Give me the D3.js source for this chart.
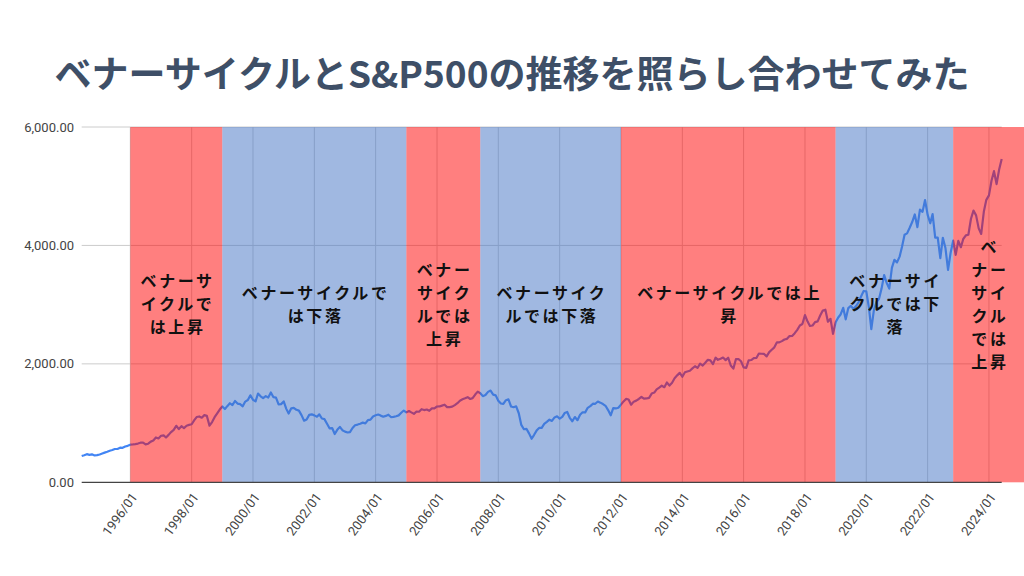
<!DOCTYPE html>
<html>
<head>
<meta charset="utf-8">
<script src="https://cdn.jsdelivr.net/npm/d3@7"></script>
<style>
  html, body { margin: 0; background: #fff; }
  svg { display: block; font-family: Roboto, Arial, sans-serif; }
  .title { font-family: "Noto Sans CJK JP"; font-weight: 700; fill: #3e4f67; }
  .band-label { font-family: "Noto Sans CJK JP"; font-weight: 700; font-size: 16px; letter-spacing: 2.6px; fill: #111; }
  .tick-y { font-size: 13px; fill: #444; }
  .tick-x { font-size: 13px; fill: #444; }
</style>
</head>
<body>
<div id="chart"></div>
<script>
(function () {
  const TITLE = "ベナーサイクルとS&P500の推移を照らし合わせてみた";

  // --- S&P500 monthly close, starting 1994/06 ---
  const START = "1994/06";
  const sp500 = [
    444, 458, 475, 463, 472, 454, 459,                                   // 1994 Jun-Dec
    470, 487, 501, 515, 533, 545, 562, 562, 584, 582, 605, 616,          // 1995
    636, 640, 646, 654, 669, 671, 640, 652, 687, 705, 757, 741,          // 1996
    786, 791, 757, 801, 848, 885, 954, 899, 947, 915, 955, 970,          // 1997
    980, 1049, 1102, 1112, 1091, 1134, 1121, 957, 1017, 1099, 1164, 1229, // 1998
    1280, 1238, 1286, 1335, 1302, 1373, 1329, 1320, 1283, 1363, 1389, 1469, // 1999
    1394, 1366, 1499, 1452, 1421, 1455, 1431, 1518, 1437, 1429, 1315, 1320, // 2000
    1366, 1240, 1160, 1249, 1256, 1224, 1211, 1134, 1041, 1060, 1139, 1148, // 2001
    1130, 1107, 1147, 1077, 1067, 990, 912, 916, 815, 886, 936, 880,     // 2002
    856, 841, 848, 917, 964, 975, 990, 1008, 996, 1051, 1058, 1112,      // 2003
    1131, 1145, 1126, 1107, 1121, 1141, 1102, 1104, 1115, 1130, 1174, 1212, // 2004
    1181, 1204, 1181, 1157, 1192, 1191, 1234, 1220, 1229, 1207, 1249, 1248, // 2005
    1280, 1281, 1295, 1311, 1270, 1270, 1277, 1304, 1336, 1378, 1401, 1418, // 2006
    1438, 1407, 1421, 1482, 1531, 1503, 1455, 1474, 1527, 1549, 1481, 1468, // 2007
    1379, 1331, 1323, 1386, 1400, 1280, 1267, 1283, 1166, 969, 896, 903, // 2008
    826, 735, 798, 873, 919, 919, 987, 1021, 1057, 1036, 1096, 1115,     // 2009
    1074, 1104, 1169, 1187, 1089, 1031, 1102, 1049, 1141, 1183, 1181, 1258, // 2010
    1286, 1327, 1326, 1364, 1345, 1321, 1292, 1219, 1131, 1253, 1247, 1258, // 2011
    1312, 1366, 1408, 1398, 1310, 1362, 1379, 1407, 1441, 1412, 1416, 1426, // 2012
    1498, 1515, 1569, 1598, 1631, 1606, 1686, 1633, 1682, 1757, 1806, 1848, // 2013
    1783, 1859, 1872, 1884, 1924, 1960, 1931, 2003, 1972, 2018, 2068, 2059, // 2014
    1995, 2105, 2068, 2086, 2107, 2063, 2104, 1972, 1920, 2079, 2080, 2044, // 2015
    1940, 1932, 2060, 2065, 2097, 2099, 2174, 2171, 2168, 2126, 2199, 2239, // 2016
    2279, 2364, 2363, 2384, 2412, 2423, 2470, 2472, 2519, 2575, 2648, 2674, // 2017
    2824, 2714, 2641, 2648, 2705, 2718, 2816, 2902, 2914, 2712, 2760, 2507, // 2018
    2704, 2784, 2834, 2946, 2752, 2942, 2980, 2926, 2977, 3038, 3141, 3231, // 2019
    3226, 2954, 2585, 2912, 3044, 3100, 3271, 3500, 3363, 3270, 3622, 3756, // 2020
    3714, 3811, 3973, 4181, 4204, 4298, 4395, 4523, 4308, 4605, 4567, 4766, // 2021
    4516, 4374, 4530, 4132, 4132, 3785, 4130, 3955, 3586, 3872, 4080, 3840, // 2022
    4077, 3970, 4109, 4169, 4180, 4450, 4589, 4508, 4288, 4194, 4568, 4770, // 2023
    4846, 5096, 5254, 5036, 5278, 5460                                   // 2024 Jan-Jun
  ];

  // --- Benner cycle periods ---
  const bandStarts = ["1996/01", "1999/01", "2005/01", "2007/06", "2012/01", "2019/01", "2022/11"];
  const bandEnds   = ["1999/01", "2005/01", "2007/06", "2012/01", "2019/01", "2022/11", null];
  const bandPhase  = ["up", "down", "up", "down", "up", "down", "up"];
  const bandLines  = [
    ["ベナーサ", "イクルで", "は上昇"],
    ["ベナーサイクルで", "は下落"],
    ["ベナー", "サイク", "ルでは", "上昇"],
    ["ベナーサイク", "ルでは下落"],
    ["ベナーサイクルでは上", "昇"],
    ["ベナーサイ", "クルでは下", "落"],
    ["ベ", "ナー", "サイ", "クル", "では", "上昇"]
  ];

  const xTicks = ["1996/01", "1998/01", "2000/01", "2002/01", "2004/01", "2006/01", "2008/01",
                  "2010/01", "2012/01", "2014/01", "2016/01", "2018/01", "2020/01", "2022/01", "2024/01"];
  const yTicks = [0, 2000, 4000, 6000];

  const W = 1024, H = 576;
  const plot = { left: 81.7, right: 1001.7, top: 127, bottom: 482.3 };
  const bandFill = { up: "rgba(255,0,0,0.5)", down: "rgba(66,113,196,0.5)" };

  const parse = d3.timeParse("%Y/%m");
  const fmt = d3.timeFormat("%Y/%m");
  const t0 = parse(START);
  const months = d3.timeMonth.range(t0, d3.timeMonth.offset(t0, sp500.length));
  const series = months.map((m, i) => ({ date: m, value: sp500[i] }));

  const x = d3.scaleTime().domain([months[0], months[months.length - 1]]).range([plot.left, plot.right]);
  const y = d3.scaleLinear().domain([0, 6000]).range([plot.bottom, plot.top]);

  const svg = d3.select("#chart").append("svg").attr("width", W).attr("height", H);

  svg.append("text").attr("class", "title")
    .attr("x", 512).attr("y", 75).attr("dy", "0.35em")
    .attr("text-anchor", "middle").attr("font-size", 37)
    .text(TITLE);

  // gridlines
  svg.append("g").selectAll("line").data(yTicks.filter(d => d > 0)).join("line")
    .attr("x1", plot.left).attr("x2", plot.right)
    .attr("y1", d => y(d)).attr("y2", d => y(d))
    .attr("stroke", "#cccccc").attr("stroke-width", 1);
  svg.append("g").selectAll("line").data(xTicks).join("line")
    .attr("x1", d => x(parse(d))).attr("x2", d => x(parse(d)))
    .attr("y1", plot.top).attr("y2", plot.bottom)
    .attr("stroke", "#cccccc").attr("stroke-width", 1);

  // S&P500 line
  const line = d3.line().x(d => x(d.date)).y(d => y(d.value));
  svg.append("path").datum(series)
    .attr("d", line).attr("fill", "none")
    .attr("stroke", "#4285f4").attr("stroke-width", 2.2).attr("stroke-linejoin", "round");

  // translucent period bands on top of the line
  const bands = bandStarts.map((s, i) => ({
    x0: x(parse(s)), x1: bandEnds[i] ? x(parse(bandEnds[i])) : W,
    phase: bandPhase[i], lines: bandLines[i]
  }));
  svg.append("g").selectAll("rect").data(bands).join("rect")
    .attr("x", d => d.x0).attr("width", d => d.x1 - d.x0)
    .attr("y", plot.top).attr("height", plot.bottom - plot.top)
    .attr("fill", d => bandFill[d.phase]);

  // baseline
  svg.append("line")
    .attr("x1", plot.left).attr("x2", plot.right)
    .attr("y1", y(0)).attr("y2", y(0))
    .attr("stroke", "#444").attr("stroke-width", 1.2);

  // y tick labels
  svg.append("g").selectAll("text").data(yTicks).join("text")
    .attr("class", "tick-y")
    .attr("x", 74).attr("y", d => y(d)).attr("dy", "0.35em")
    .attr("text-anchor", "end")
    .text(d3.format(",.2f"));

  // x tick labels (slanted)
  svg.append("g").selectAll("text").data(xTicks).join("text")
    .attr("class", "tick-x")
    .attr("transform", d => `translate(${x(parse(d)) + 4},${plot.bottom + 12}) rotate(-54)`)
    .attr("dy", "0.35em")
    .attr("text-anchor", "end")
    .text(d => fmt(parse(d)));

  // band labels, centred in each band
  const lh = 23, cy = (plot.top + plot.bottom) / 2;
  const lg = svg.append("g").selectAll("text").data(bands).join("text")
    .attr("class", "band-label")
    .attr("text-anchor", "middle");
  lg.selectAll("tspan").data(d => d.lines.map((t, k) => ({ t, k, n: d.lines.length, cx: (d.x0 + d.x1) / 2 }))).join("tspan")
    .attr("x", d => d.cx + 1.3)
    .attr("y", d => cy + (d.k - (d.n - 1) / 2) * lh)
    .attr("dy", "0.35em")
    .text(d => d.t);
})();
</script>
</body>
</html>
